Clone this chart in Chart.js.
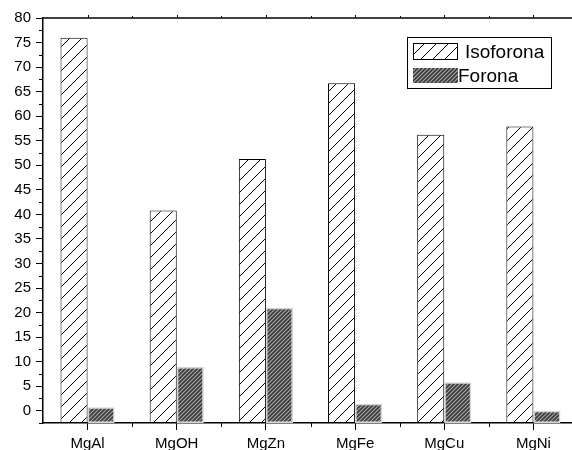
<!DOCTYPE html>
<html>
<head>
<meta charset="utf-8">
<script src="https://cdn.jsdelivr.net/npm/chart.js@4"></script>
<style>
html,body{margin:0;padding:0;background:#fff;overflow:hidden;}
#wrap{position:absolute;left:0;top:0;width:578px;height:450px;}
</style>
</head>
<body>
<div id="wrap"><canvas id="c" width="578" height="450"></canvas></div>
<script>
const categories = ['MgAl', 'MgOH', 'MgZn', 'MgFe', 'MgCu', 'MgNi'];
const isoforona = [76.0, 40.8, 51.3, 66.7, 56.2, 57.9];
const forona = [0.7, 8.9, 21.0, 1.4, 5.8, 0.0];
const seriesNames = ['Isoforona', 'Forona'];
const yTicks = [0,5,10,15,20,25,30,35,40,45,50,55,60,65,70,75,80];

const canvas = document.getElementById('c');
const ctx = canvas.getContext('2d');

function hatch(bg, fg, size, lw) {
  const c = document.createElement('canvas');
  c.width = size; c.height = size;
  const x = c.getContext('2d');
  x.fillStyle = bg; x.fillRect(0, 0, size, size);
  x.strokeStyle = fg; x.lineWidth = lw;
  x.beginPath();
  x.moveTo(-size, 2*size); x.lineTo(2*size, -size);
  x.moveTo(-size, size); x.lineTo(size, -size);
  x.moveTo(0, 2*size); x.lineTo(2*size, 0);
  x.stroke();
  return ctx.createPattern(c, 'repeat');
}
const isoPattern = hatch('#ffffff', '#000000', 12, 1);
const forPattern = hatch('#3a3a3a', '#a6a6a6', 4, 1.2);

const FONT = "'Liberation Sans', Arial, sans-serif";

const decorPlugin = {
  id: 'decor',
  afterDraw(chart) {
    const c = chart.ctx;
    const a = chart.chartArea;
    const x = chart.scales.x, y = chart.scales.y;
    c.save();
    c.strokeStyle = '#000';
    c.lineWidth = 1.5;
    c.beginPath(); c.moveTo(a.left, a.top); c.lineTo(a.right + 2, a.top); c.stroke();
    c.lineWidth = 1;
    for (let v = -2.5; v <= 80; v += 5) {
      const py = Math.round(y.getPixelForValue(v)) + 0.5;
      c.beginPath(); c.moveTo(a.left - 4, py); c.lineTo(a.left, py); c.stroke();
    }
    for (let i = 0; i < categories.length; i++) {
      const px = x.getPixelForValue(i);
      const next = i + 1 < categories.length ? x.getPixelForValue(i + 1) : px + (px - x.getPixelForValue(i - 1));
      const mid = Math.round((px + next) / 2) + 0.5;
      c.beginPath(); c.moveTo(mid, a.bottom); c.lineTo(mid, a.bottom + 4); c.stroke();
      c.beginPath(); c.moveTo(mid, a.top); c.lineTo(mid, a.top - 2); c.stroke();
      const cp = Math.round(px) + 0.5;
      c.beginPath(); c.moveTo(cp, a.top); c.lineTo(cp, a.top - 3); c.stroke();
    }
    const ds = chart.data.datasets;
    c.lineWidth = 1;
    c.strokeStyle = '#000';
    c.strokeRect(407.5, 37.5, 144, 51);
    c.fillStyle = ds[0].backgroundColor;
    c.fillRect(413, 43, 45, 17);
    c.strokeRect(413.5, 43.5, 44, 16);
    c.fillStyle = ds[1].backgroundColor;
    c.fillRect(413, 68, 45, 15);
    c.fillStyle = '#000';
    c.font = '19px ' + FONT;
    c.textBaseline = 'middle';
    c.textAlign = 'left';
    c.fillText(ds[0].label, 465, 52.5);
    c.fillText(ds[1].label, 458, 76.5);
    c.restore();
  }
};

new Chart(canvas, {
  type: 'bar',
  data: {
    labels: categories,
    datasets: [
      { label: seriesNames[0], data: isoforona, backgroundColor: isoPattern, borderColor: '#000', borderWidth: 1, borderSkipped: false, base: -2.5 },
      { label: seriesNames[1], data: forona, backgroundColor: forPattern, borderColor: '#d4d4d4', borderWidth: 1.5, borderSkipped: false, base: -2.5 }
    ]
  },
  options: {
    responsive: false,
    animation: false,
    devicePixelRatio: 1,
    layout: { padding: { top: 18, left: 0, right: 0, bottom: 0 } },
    categoryPercentage: 0.607,
    barPercentage: 1.0,
    plugins: { legend: { display: false }, tooltip: { enabled: false } },
    scales: {
      x: {
        offset: true,
        grid: { display: true, drawOnChartArea: false, drawTicks: true, tickLength: 7, color: '#000', offset: false, lineWidth: 1 },
        border: { display: true, color: '#000', width: 1.5 },
        ticks: { color: '#000', font: { family: FONT, size: 15 }, padding: 5, maxRotation: 0 },
        afterFit(s) { s.height = 27; }
      },
      y: {
        min: -2.5, max: 80,
        afterBuildTicks(s) { s.ticks = yTicks.map(v => ({ value: v })); },
        grid: { display: true, drawOnChartArea: false, drawTicks: true, tickLength: 7, color: '#000', lineWidth: 1 },
        border: { display: true, color: '#000', width: 1.5 },
        ticks: { color: '#000', font: { family: FONT, size: 15 }, padding: 5 },
        afterFit(s) { s.width = 43; }
      }
    }
  },
  plugins: [decorPlugin]
});
</script>
</body>
</html>
